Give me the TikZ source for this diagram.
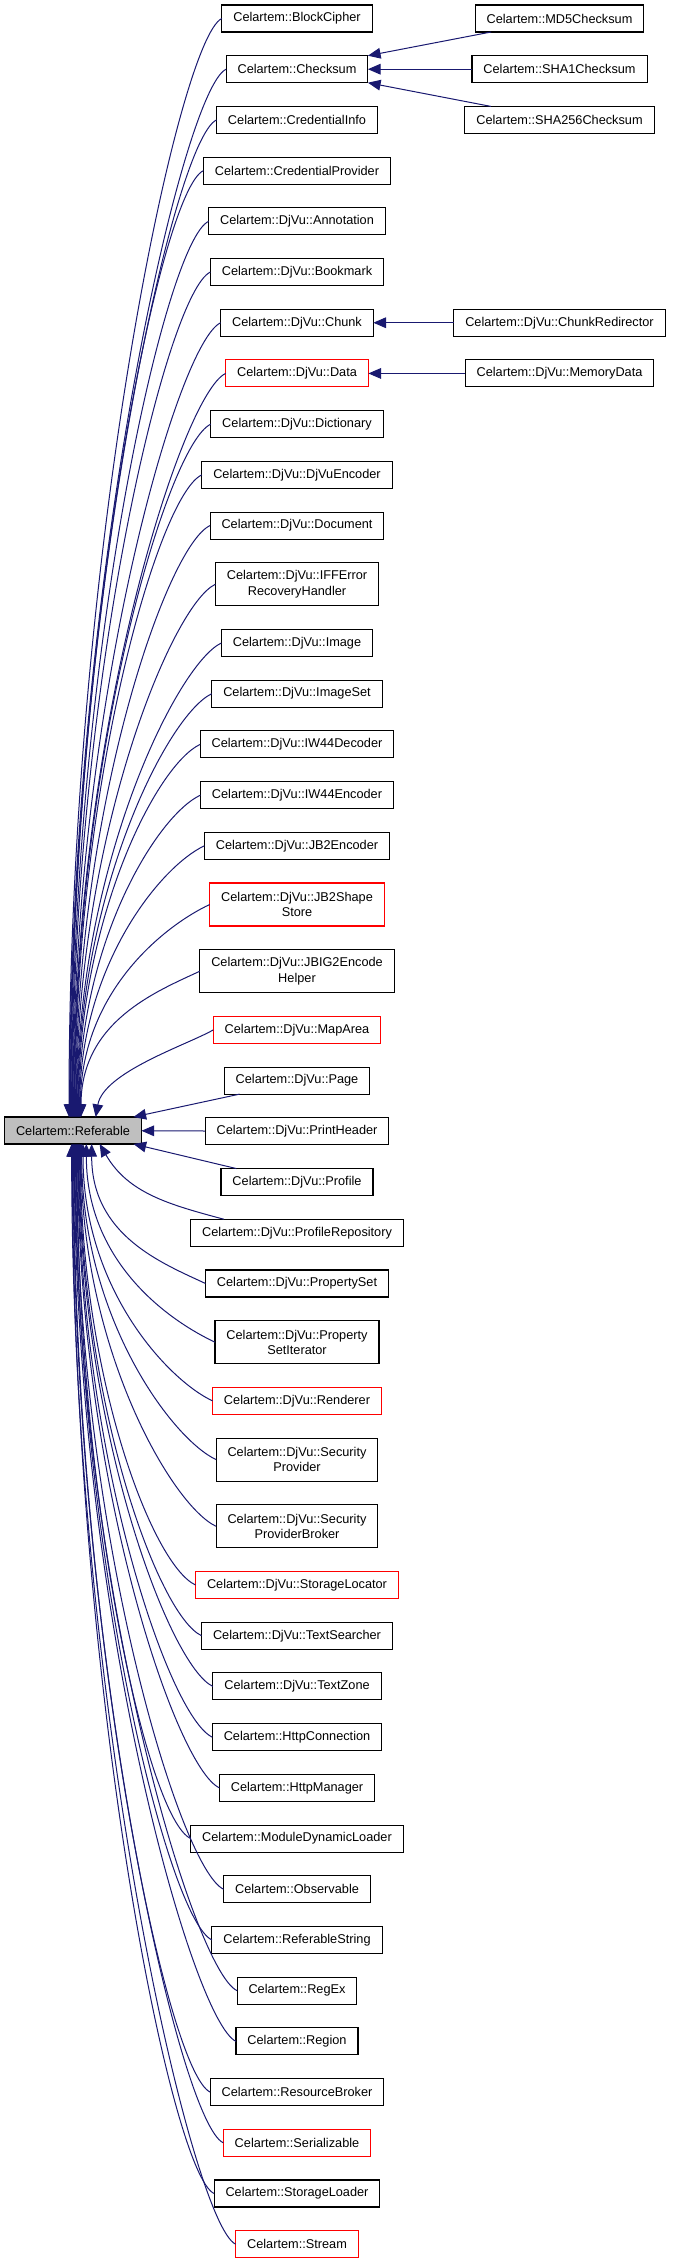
\documentclass[tikz,border=0pt]{standalone}
\usepackage{fontspec}
\setmainfont{Liberation Sans}
\definecolor{EdgeNavy}{RGB}{25,25,112}
\definecolor{BaseGray}{RGB}{191,191,191}
\usetikzlibrary{arrows.meta,positioning}

\begin{document}
\begin{tikzpicture}[
    x=0.75pt, y=0.75pt,
    font=\fontsize{9.55pt}{11.5pt}\selectfont,
    cls/.style={draw=black, line width=0.8pt, fill=white, align=center, outer sep=0pt,
                inner xsep=8.6pt, inner ysep=0pt, minimum height=20.25pt},
    cls2/.style={cls, minimum height=32.25pt},
    red/.style={draw=red},
    base/.style={cls, fill=BaseGray},
    inh/.style={{Triangle[length=9.5pt,width=8pt]}-, draw=EdgeNavy, line width=0.75pt},
    up/.style={out=90, in=205, out looseness=1.3, in distance=36pt},
    dn/.style={out=-90, in=155, out looseness=1.3, in distance=36pt},
    gap/.style={below=17.78pt of #1}
  ]
  \useasboundingbox (0,0) rectangle (672,-2261);
  % base class
  \node[base] (ref) at (73,-1130.5) {Celartem::Referable};
  % left column, top to bottom
  \node[cls] (bc) at (297,-18.5) {Celartem::BlockCipher};
  \node[cls, gap=bc]       (chk)    {Celartem::Checksum};
  \node[cls, gap=chk]      (cinfo)  {Celartem::CredentialInfo};
  \node[cls, gap=cinfo]    (cprov)  {Celartem::CredentialProvider};
  \node[cls, gap=cprov]    (annot)  {Celartem::DjVu::Annotation};
  \node[cls, gap=annot]    (bmark)  {Celartem::DjVu::Bookmark};
  \node[cls, gap=bmark]    (chunk)  {Celartem::DjVu::Chunk};
  \node[cls, red, gap=chunk] (data) {Celartem::DjVu::Data};
  \node[cls, gap=data]     (dict)   {Celartem::DjVu::Dictionary};
  \node[cls, gap=dict]     (djenc)  {Celartem::DjVu::DjVuEncoder};
  \node[cls, gap=djenc]    (doc)    {Celartem::DjVu::Document};
  \node[cls2, gap=doc]     (iffe)   {Celartem::DjVu::IFFError\\RecoveryHandler};
  \node[cls, gap=iffe]     (img)    {Celartem::DjVu::Image};
  \node[cls, gap=img]      (imgset) {Celartem::DjVu::ImageSet};
  \node[cls, gap=imgset]   (iwdec)  {Celartem::DjVu::IW44Decoder};
  \node[cls, gap=iwdec]    (iwenc)  {Celartem::DjVu::IW44Encoder};
  \node[cls, gap=iwenc]    (jbenc)  {Celartem::DjVu::JB2Encoder};
  \node[cls2, red, gap=jbenc] (jbshape) {Celartem::DjVu::JB2Shape\\Store};
  \node[cls2, gap=jbshape] (jbig)   {Celartem::DjVu::JBIG2Encode\\Helper};
  \node[cls, red, gap=jbig] (marea) {Celartem::DjVu::MapArea};
  \node[cls, gap=marea]    (page)   {Celartem::DjVu::Page};
  \node[cls, gap=page]     (phead)  {Celartem::DjVu::PrintHeader};
  \node[cls, gap=phead]    (prof)   {Celartem::DjVu::Profile};
  \node[cls, gap=prof]     (prepo)  {Celartem::DjVu::ProfileRepository};
  \node[cls, gap=prepo]    (pset)   {Celartem::DjVu::PropertySet};
  \node[cls2, gap=pset]    (psiter) {Celartem::DjVu::Property\\SetIterator};
  \node[cls, red, gap=psiter] (rend) {Celartem::DjVu::Renderer};
  \node[cls2, gap=rend]    (secp)   {Celartem::DjVu::Security\\Provider};
  \node[cls2, gap=secp]    (secpb)  {Celartem::DjVu::Security\\ProviderBroker};
  \node[cls, red, gap=secpb] (sloc) {Celartem::DjVu::StorageLocator};
  \node[cls, gap=sloc]     (tsearch){Celartem::DjVu::TextSearcher};
  \node[cls, gap=tsearch]  (tzone)  {Celartem::DjVu::TextZone};
  \node[cls, gap=tzone]    (hconn)  {Celartem::HttpConnection};
  \node[cls, gap=hconn]    (hman)   {Celartem::HttpManager};
  \node[cls, gap=hman]     (modl)   {Celartem::ModuleDynamicLoader};
  \node[cls, gap=modl]     (obs)    {Celartem::Observable};
  \node[cls, gap=obs]      (refstr) {Celartem::ReferableString};
  \node[cls, gap=refstr]   (regex)  {Celartem::RegEx};
  \node[cls, gap=regex]    (region) {Celartem::Region};
  \node[cls, gap=region]   (resb)   {Celartem::ResourceBroker};
  \node[cls, red, gap=resb] (ser)   {Celartem::Serializable};
  \node[cls, gap=ser]      (sload)  {Celartem::StorageLoader};
  \node[cls, red, gap=sload] (stream) {Celartem::Stream};
  % right column
  \coordinate (rcol) at (559.5,0);
  \node[cls] (md5)    at (bc -| rcol)    {Celartem::MD5Checksum};
  \node[cls] (sha1)   at (chk -| rcol)   {Celartem::SHA1Checksum};
  \node[cls] (sha256) at (cinfo -| rcol) {Celartem::SHA256Checksum};
  \node[cls] (chkr)   at (chunk -| rcol) {Celartem::DjVu::ChunkRedirector};
  \node[cls] (memd)   at (data -| rcol)  {Celartem::DjVu::MemoryData};

  % edges into the base class, upper half
  \foreach \c/\s in {bc/-3,chk/-2.5,cinfo/-2,cprov/-1.5,annot/-1,bmark/-0.5,
      chunk/0,data/0.5,dict/1,djenc/1.5,doc/2,iffe/2.5,img/3,imgset/3.5,
      iwdec/4,iwenc/4.5,jbenc/5,jbshape/5.5,jbig/6}
    \draw[inh] ([xshift=\s pt]ref.north) to[up] (\c.west);
  \draw[inh] ([xshift=17pt]ref.north) to[out=80, in=210, out looseness=0.8, in distance=22pt] (marea.west);
  \draw[inh] ([xshift=-6pt]ref.north east) -- ([xshift=11.5pt]page.south west);
  \draw[inh] (ref) -- (phead);
  \draw[inh] ([xshift=-6pt]ref.south east) -- ([xshift=11.5pt]prof.north west);
  \draw[inh] ([xshift=20pt]ref.south) to[out=-60, in=165] ([xshift=25pt]prepo.north west);
  % edges into the base class, lower half
  \foreach \c/\s in {pset/14,psiter/10,rend/7.5,secp/6.5,secpb/6,sloc/5.5,
      tsearch/5,tzone/4.5,hconn/4,hman/3.5,modl/3,obs/2.5,refstr/2,regex/1.5,
      region/1,resb/0.5,ser/0,sload/-0.5,stream/-1}
    \draw[inh] ([xshift=\s pt]ref.south) to[dn] (\c.west);
  % second level
  \draw[inh] (chk.north east) -- ([xshift=12pt]md5.south west);
  \draw[inh] (chk) -- (sha1);
  \draw[inh] (chk.south east) -- ([xshift=19.5pt]sha256.north west);
  \draw[inh] (chunk) -- (chkr);
  \draw[inh] (data) -- (memd);
\end{tikzpicture}
\end{document}
